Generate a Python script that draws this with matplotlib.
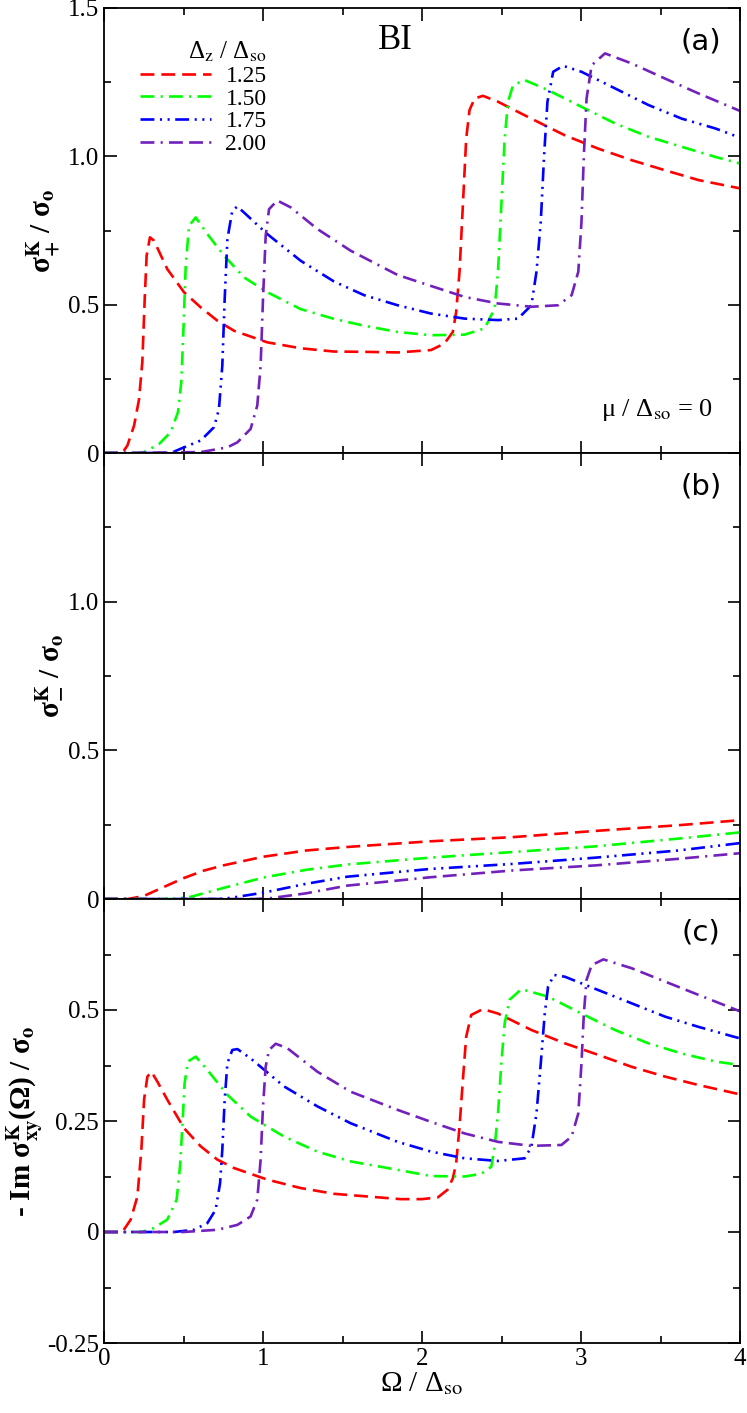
import matplotlib
matplotlib.use("Agg")
import matplotlib.pyplot as plt
from matplotlib.ticker import MultipleLocator, FixedLocator, FixedFormatter

plt.rcParams['font.family'] = ['Liberation Serif', 'DejaVu Serif']
plt.rcParams['mathtext.fontset'] = 'stix'
plt.rcParams['lines.scale_dashes'] = False

# legend values (Delta_z / Delta_so)
labels = ['1.25', '1.50', '1.75', '2.00']
colors = ['#ff0000', '#00ff00', '#0000ff', '#7221bc']
styles = [(0, (10, 5)),
          (0, (10, 4.5, 1.5, 4.5)),
          (0, (10, 4, 1.5, 4, 1.5, 4)),
          (0, (10, 4.5, 1.5, 4.5, 10, 4.5))]

# ---- panel (a): sigma_+^K / sigma_0
a_x_125 = [0, 0.115, 0.147, 0.189, 0.22, 0.241, 0.256, 0.268, 0.289, 0.314, 0.398, 0.503, 0.608, 0.713, 0.818, 1.027, 1.237, 1.447, 1.636, 1.847, 2.057, 2.141, 2.194, 2.215, 2.236, 2.257, 2.278, 2.299, 2.331, 2.383, 2.478, 2.688, 2.898, 3.108, 3.319, 3.529, 3.739, 4.0]
a_y_125 = [0, 0, 0.025, 0.092, 0.18, 0.306, 0.519, 0.665, 0.727, 0.716, 0.62, 0.542, 0.491, 0.446, 0.412, 0.373, 0.353, 0.342, 0.341, 0.339, 0.347, 0.369, 0.408, 0.476, 0.611, 0.835, 1.06, 1.156, 1.195, 1.204, 1.184, 1.127, 1.071, 1.026, 0.987, 0.953, 0.92, 0.892]
a_x_150 = [0, 0.24, 0.346, 0.419, 0.465, 0.486, 0.499, 0.514, 0.535, 0.577, 0.65, 0.755, 0.881, 1.027, 1.237, 1.447, 1.636, 1.847, 2.057, 2.268, 2.394, 2.457, 2.478, 2.499, 2.52, 2.541, 2.573, 2.646, 2.793, 3.003, 3.214, 3.424, 3.634, 3.845, 4.0]
a_y_150 = [0, 0, 0.03, 0.07, 0.137, 0.238, 0.407, 0.631, 0.766, 0.794, 0.738, 0.665, 0.592, 0.542, 0.485, 0.452, 0.429, 0.408, 0.397, 0.399, 0.42, 0.487, 0.611, 0.835, 1.06, 1.184, 1.24, 1.257, 1.223, 1.167, 1.111, 1.066, 1.032, 0.998, 0.976]
a_x_175 = [0, 0.42, 0.503, 0.608, 0.692, 0.723, 0.744, 0.759, 0.776, 0.807, 0.839, 0.902, 1.027, 1.237, 1.447, 1.636, 1.847, 2.057, 2.268, 2.478, 2.604, 2.688, 2.72, 2.747, 2.768, 2.789, 2.825, 2.888, 3.003, 3.214, 3.424, 3.634, 3.845, 4.0]
a_y_175 = [0, 0, 0.019, 0.042, 0.087, 0.148, 0.294, 0.519, 0.721, 0.817, 0.831, 0.8, 0.738, 0.648, 0.578, 0.532, 0.498, 0.47, 0.453, 0.448, 0.453, 0.498, 0.611, 0.779, 1.004, 1.184, 1.285, 1.305, 1.285, 1.229, 1.173, 1.127, 1.094, 1.063]
a_x_200 = [0, 0.608, 0.776, 0.839, 0.922, 0.964, 0.985, 1.0, 1.017, 1.038, 1.09, 1.174, 1.342, 1.551, 1.847, 2.057, 2.268, 2.478, 2.688, 2.856, 2.941, 2.983, 3.003, 3.018, 3.035, 3.067, 3.151, 3.319, 3.529, 3.739, 4.0]
a_y_200 = [0, 0.003, 0.019, 0.036, 0.081, 0.16, 0.294, 0.519, 0.733, 0.822, 0.851, 0.828, 0.755, 0.682, 0.6, 0.563, 0.526, 0.504, 0.493, 0.498, 0.532, 0.611, 0.779, 1.004, 1.195, 1.307, 1.347, 1.313, 1.262, 1.212, 1.153]

# ---- panel (b): sigma_-^K / sigma_0
b_x_125 = [0, 0.15, 0.25, 0.375, 0.5, 0.625, 0.75, 1.0, 1.27, 1.53, 2.05, 2.57, 3.09, 3.61, 4.0]
b_y_125 = [0, 0, 0.01, 0.04, 0.07, 0.095, 0.113, 0.142, 0.163, 0.175, 0.194, 0.208, 0.229, 0.248, 0.265]
b_x_150 = [0, 0.45, 0.55, 0.75, 1.01, 1.27, 1.53, 2.05, 2.57, 3.09, 3.61, 4.0]
b_y_150 = [0, 0, 0.008, 0.037, 0.073, 0.098, 0.116, 0.139, 0.158, 0.177, 0.203, 0.224]
b_x_175 = [0, 0.72, 0.8, 1.01, 1.27, 1.53, 2.05, 2.57, 3.09, 3.61, 4.0]
b_y_175 = [0, 0, 0.004, 0.022, 0.051, 0.075, 0.101, 0.118, 0.139, 0.163, 0.188]
b_x_200 = [0, 0.95, 1.05, 1.27, 1.53, 2.05, 2.57, 3.09, 3.61, 4.0]
b_y_200 = [0, 0, 0.003, 0.019, 0.045, 0.073, 0.096, 0.113, 0.135, 0.154]

# ---- panel (c): -Im sigma_xy^K / sigma_0
c_x_125 = [0, 0.115, 0.168, 0.21, 0.235, 0.252, 0.273, 0.298, 0.335, 0.398, 0.503, 0.608, 0.713, 0.818, 1.027, 1.237, 1.447, 1.866, 2.0, 2.1, 2.16, 2.194, 2.215, 2.236, 2.257, 2.278, 2.31, 2.383, 2.478, 2.688, 2.898, 3.108, 3.319, 3.529, 3.739, 4.0]
c_y_125 = [0, 0, 0.028, 0.08, 0.185, 0.298, 0.35, 0.361, 0.339, 0.298, 0.234, 0.193, 0.163, 0.144, 0.118, 0.099, 0.086, 0.074, 0.074, 0.078, 0.095, 0.121, 0.155, 0.237, 0.342, 0.44, 0.489, 0.502, 0.492, 0.455, 0.425, 0.399, 0.372, 0.35, 0.331, 0.31]
c_x_150 = [0, 0.24, 0.314, 0.398, 0.457, 0.478, 0.493, 0.507, 0.528, 0.577, 0.65, 0.776, 0.922, 1.132, 1.342, 1.551, 1.847, 2.057, 2.268, 2.373, 2.436, 2.457, 2.478, 2.499, 2.52, 2.551, 2.625, 2.793, 3.003, 3.214, 3.424, 3.634, 3.845, 4.0]
c_y_150 = [0, 0, 0.009, 0.028, 0.073, 0.148, 0.238, 0.335, 0.384, 0.395, 0.365, 0.309, 0.26, 0.215, 0.181, 0.159, 0.14, 0.126, 0.125, 0.131, 0.147, 0.192, 0.267, 0.38, 0.47, 0.523, 0.547, 0.53, 0.492, 0.455, 0.425, 0.402, 0.384, 0.376]
c_x_175 = [0, 0.44, 0.566, 0.65, 0.702, 0.73, 0.744, 0.759, 0.776, 0.807, 0.839, 0.922, 1.132, 1.342, 1.551, 1.847, 2.057, 2.268, 2.478, 2.646, 2.688, 2.72, 2.747, 2.772, 2.793, 2.831, 2.898, 3.108, 3.319, 3.529, 3.739, 4.0]
c_y_175 = [0, 0, 0.005, 0.02, 0.05, 0.11, 0.185, 0.298, 0.38, 0.41, 0.412, 0.391, 0.328, 0.283, 0.245, 0.203, 0.181, 0.166, 0.16, 0.166, 0.192, 0.267, 0.38, 0.492, 0.553, 0.579, 0.575, 0.545, 0.515, 0.485, 0.462, 0.436]
c_x_200 = [0, 0.5, 0.713, 0.839, 0.922, 0.964, 0.985, 1.0, 1.017, 1.038, 1.08, 1.153, 1.342, 1.551, 1.847, 2.057, 2.268, 2.478, 2.688, 2.877, 2.941, 2.983, 3.003, 3.018, 3.035, 3.067, 3.141, 3.319, 3.529, 3.739, 4.0]
c_y_200 = [0, 0, 0.005, 0.016, 0.035, 0.073, 0.163, 0.283, 0.373, 0.41, 0.424, 0.414, 0.361, 0.316, 0.275, 0.248, 0.222, 0.203, 0.194, 0.196, 0.215, 0.267, 0.38, 0.492, 0.568, 0.601, 0.614, 0.594, 0.564, 0.534, 0.497]

panels = [
    [(a_x_125, a_y_125), (a_x_150, a_y_150), (a_x_175, a_y_175), (a_x_200, a_y_200)],
    [(b_x_125, b_y_125), (b_x_150, b_y_150), (b_x_175, b_y_175), (b_x_200, b_y_200)],
    [(c_x_125, c_y_125), (c_x_150, c_y_150), (c_x_175, c_y_175), (c_x_200, c_y_200)],
]

fig = plt.figure(figsize=(7.47, 14.13), dpi=100)
L, W = 104/747, 636/747
ax_a = fig.add_axes([L, (1413-453)/1413, W, 445/1413])
ax_b = fig.add_axes([L, (1413-899)/1413, W, 446/1413])
ax_c = fig.add_axes([L, (1413-1343)/1413, W, 444/1413])
axes = [ax_a, ax_b, ax_c]

for ax, curves in zip(axes, panels):
    for (xs, ys), col, ls, lab in zip(curves, colors, styles, labels):
        ax.plot(xs, ys, color=col, linestyle=ls, linewidth=1.9, label=lab)
    ax.set_xlim(0, 4)
    ax.xaxis.set_major_locator(MultipleLocator(1))
    ax.xaxis.set_minor_locator(MultipleLocator(0.5))
    ax.tick_params(which='both', direction='in', top=True, right=True, width=1.2, labelsize=18)
    ax.tick_params(which='major', length=9)
    ax.tick_params(which='minor', length=5)
    for s in ax.spines.values():
        s.set_linewidth(1.3)
    if ax is not ax_c:
        ax.tick_params(labelbottom=False)

# y axes
ax_a.set_ylim(0, 1.5)
ax_a.yaxis.set_major_locator(FixedLocator([0, 0.5, 1.0, 1.5]))
ax_a.yaxis.set_major_formatter(FixedFormatter(['0', '0.5', '1.0', '1.5']))
ax_a.yaxis.set_minor_locator(MultipleLocator(0.25))

ax_b.set_ylim(0, 1.5)
ax_b.yaxis.set_major_locator(FixedLocator([0, 0.5, 1.0, 1.5]))
ax_b.yaxis.set_major_formatter(FixedFormatter(['0', '0.5', '1.0', '']))
ax_b.yaxis.set_minor_locator(MultipleLocator(0.25))

ax_c.set_ylim(-0.25, 0.75)
ax_c.yaxis.set_major_locator(FixedLocator([-0.25, 0, 0.25, 0.5, 0.75]))
ax_c.yaxis.set_major_formatter(FixedFormatter(['-0.25', '0', '0.25', '0.5', '']))
ax_c.yaxis.set_minor_locator(MultipleLocator(0.125))
ax_c.set_xticks([0, 1, 2, 3, 4])
ax_c.set_xticklabels(['0', '1', '2', '3', '4'])

ax_a.set_ylabel(r'σ$^{\mathbf{K}}_{\mathbf{+}}$ / σ$_{\mathbf{o}}$', fontsize=21, fontweight='bold', labelpad=4)
ax_b.set_ylabel(r'σ$^{\mathbf{K}}_{\mathbf{-}}$ / σ$_{\mathbf{o}}$', fontsize=21, fontweight='bold', labelpad=4)
ax_c.set_ylabel(r'- Im σ$^{\mathbf{K}}_{\mathbf{xy}}$(Ω) / σ$_{\mathbf{o}}$', fontsize=21, fontweight='bold', labelpad=2)
ax_c.set_xlabel(r'Ω / Δ$_{\mathrm{so}}$', fontsize=21, labelpad=0)

# panel tags
for ax, tag in zip(axes, ['(a)', '(b)', '(c)']):
    ax.text(0.939, 0.925, tag, transform=ax.transAxes, ha='center', va='center',
            fontsize=21, family='DejaVu Sans')

ax_a.text(1.83, 1.39, 'BI', ha='center', va='center', fontsize=25)
ax_a.text(0.957, 0.097, r'μ / Δ$_{\mathrm{so}}$ = 0', transform=ax_a.transAxes,
          ha='right', va='center', fontsize=19)

leg = ax_a.legend(loc='upper left', bbox_to_anchor=(0.035, 0.96), frameon=False,
                  title=r'Δ$_{\mathrm{z}}$ / Δ$_{\mathrm{so}}$', title_fontsize=18,
                  fontsize=17, handlelength=3.0, handletextpad=0.6, labelspacing=0.05,
                  borderaxespad=0.2)
leg._legend_box.align = 'right'

fig.savefig('out.png', dpi=100)
